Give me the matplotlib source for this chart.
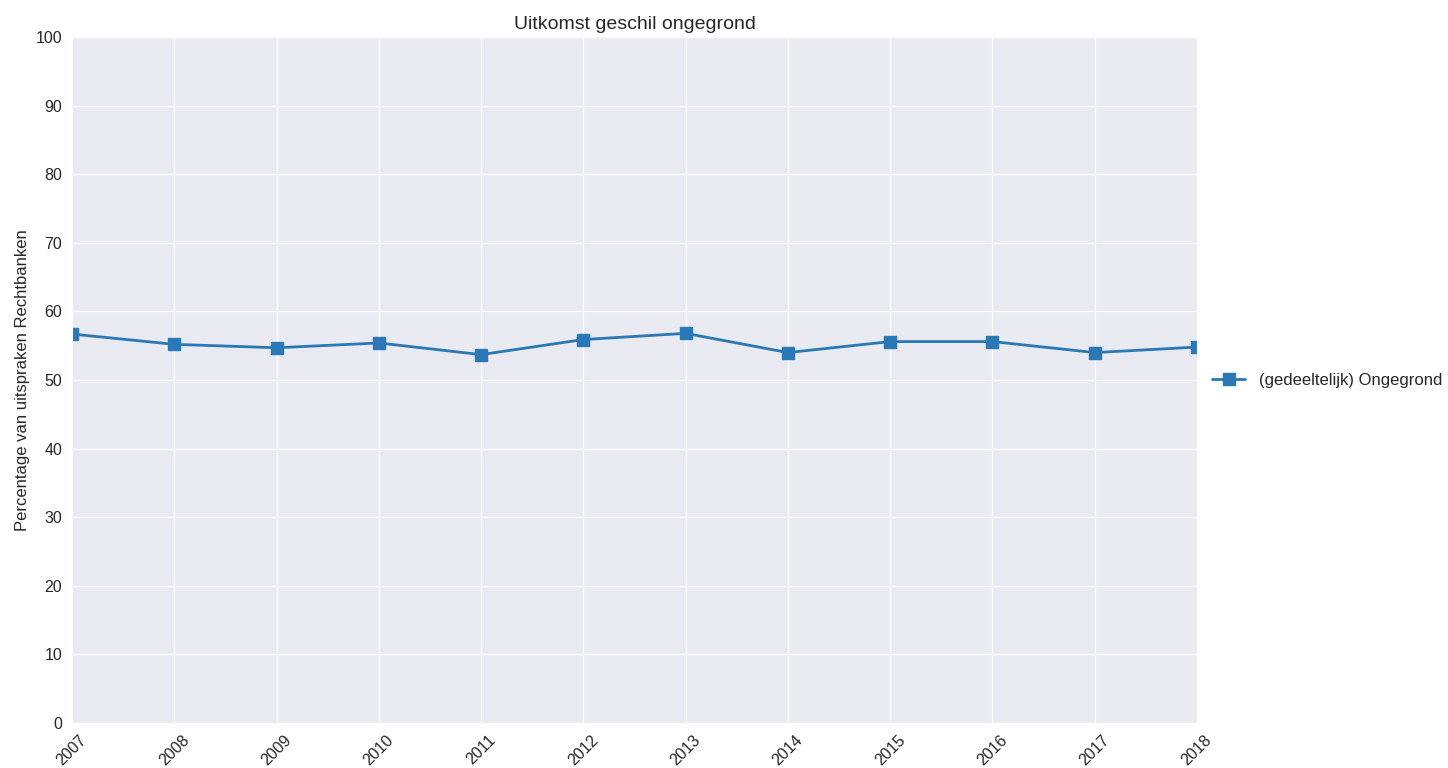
import matplotlib
matplotlib.use("Agg")
import matplotlib.pyplot as plt
import seaborn as sns

years = [2007, 2008, 2009, 2010, 2011, 2012, 2013, 2014, 2015, 2016, 2017, 2018]
ongegrond = [56.7, 55.2, 54.7, 55.4, 53.7, 55.9, 56.8, 54.0, 55.6, 55.6, 54.0, 54.8]
series_label = "(gedeeltelijk) Ongegrond"

sns.set_style("darkgrid")
plt.rcParams["font.family"] = ["Liberation Sans", "DejaVu Sans"]

fig, ax = plt.subplots(figsize=(14.48, 7.68), dpi=100)
fig.subplots_adjust(left=0.0497, right=0.8267, top=0.9518, bottom=0.0586)

ax.plot(years, ongegrond, marker="s", color="#2a78b5", lw=2, ms=8, label=series_label)
ax.set_xlim(years[0], years[-1])
ax.set_ylim(0, 100)
ax.set_xticks(years)
ax.set_xticklabels([str(y) for y in years], rotation=45, fontsize=11.5)
ax.set_yticks(range(0, 101, 10))
ax.tick_params(axis="y", labelsize=11.5)
ax.set_ylabel("Percentage van uitspraken Rechtbanken", fontsize=12)
ax.set_title("Uitkomst geschil ongegrond", fontsize=14)
ax.legend(loc="center left", bbox_to_anchor=(1.0, 0.5), frameon=False, fontsize=12)

fig.savefig("out.png", dpi=100)
